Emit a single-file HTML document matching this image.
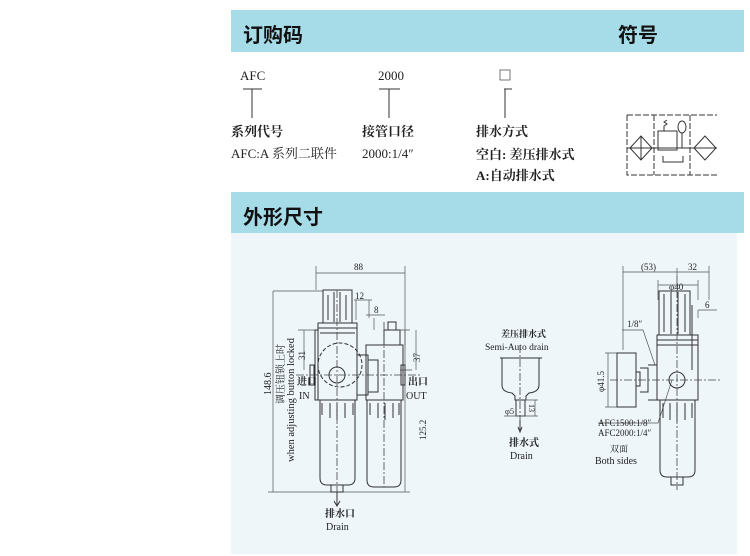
<!DOCTYPE html>
<html><head><meta charset="utf-8"><style>
html,body{margin:0;padding:0;background:#fff;}
svg{display:block;}
text{font-family:"Liberation Serif","Noto Serif CJK SC",serif;fill:#222;}
.h{font-family:"Liberation Sans","Noto Sans CJK SC",sans-serif;font-weight:bold;fill:#111;font-size:20px;}
.l{stroke:#333;stroke-width:1;fill:none;}
.t{stroke:#555;stroke-width:0.7;fill:none;}
.d{stroke:#444;stroke-width:0.8;fill:none;stroke-dasharray:8 2 2 2;}
</style></head><body>
<svg width="750" height="556" viewBox="0 0 750 556" xmlns="http://www.w3.org/2000/svg">
<rect x="231" y="10" width="513" height="42" fill="#a6dbe8"/>
<text x="243" y="42" class="h">订购码</text>
<text x="618" y="42" class="h">符号</text>
<text x="240" y="80" font-size="13">AFC</text>
<path class="l" d="M243 89H262M252 89V118"/>
<text x="378" y="80" font-size="13">2000</text>
<path class="l" d="M379 89H400M389 89V118"/>
<rect x="500" y="70" width="10" height="10" fill="none" stroke="#555" stroke-width="0.8"/>
<path class="l" d="M504 89H512M505 89V118"/>
<text x="231" y="136" font-size="13" font-weight="bold">系列代号</text>
<text x="231" y="158" font-size="13">AFC:A 系列二联件</text>
<text x="362" y="136" font-size="13" font-weight="bold">接管口径</text>
<text x="362" y="158" font-size="13">2000:1/4″</text>
<text x="476" y="136" font-size="13" font-weight="bold">排水方式</text>
<text x="476" y="159" font-size="13" font-weight="bold">空白:  差压排水式</text>
<text x="476" y="180" font-size="13" font-weight="bold">A:自动排水式</text>
<g stroke="#333" stroke-width="1" fill="none">
<path d="M627 115H717M627 115V175H717M654 115V175M690 115V175" stroke-dasharray="6 2"/>
<path d="M627 148H717"/>
<path d="M630 148L641 136L652 148L641 160Z"/>
<path d="M641 136V160"/>
<path d="M694 148L705 136L716 148L705 160Z"/>
<rect x="658" y="131" width="19" height="19"/>
<path d="M664 131V126l3-2-3-2 3-2"/>
<ellipse cx="682" cy="127" rx="4" ry="6"/>
<path d="M682 133V148M663 156V162H683V156"/>
</g>
<rect x="231" y="192" width="513" height="41" fill="#a6dbe8"/>
<text x="243" y="224" class="h">外形尺寸</text>
<rect x="231" y="233" width="506" height="321" fill="#eef6fa"/>
<g>
<path class="t" d="M316 266V290M405 266V345M316 273H405"/>
<text x="354" y="270" font-size="9">88</text>
<path class="t" d="M273 291H323M273 291V492M268 492H410M400 330H410M405 330V492M298 330H318M304 330V370M400 370H412M416 330V370"/>
<text x="271" y="395" font-size="10" transform="rotate(-90 271 395)">148.6</text>
<text x="284" y="404" font-size="10" transform="rotate(-90 284 404)">调压钮锁上时</text>
<text x="294" y="462" font-size="10.5" transform="rotate(-90 294 462)">when adjusting button locked</text>
<text x="305" y="360" font-size="9" transform="rotate(-90 305 360)">31</text>
<text x="420" y="362" font-size="9" transform="rotate(-90 420 362)">37</text>
<text x="426" y="440" font-size="9" transform="rotate(-90 426 440)">125.2</text>
<text x="355" y="299" font-size="9">12</text>
<text x="374" y="313" font-size="9">8</text>
<path class="t" d="M354 300H372M356 300V320M369 300V318M366 315H385M374 318V330"/>
<g class="l">
<path d="M323 290H352V323H323Z"/>
<path d="M328 295V320M334 292V322M340 292V322M346 295V320"/>
<path d="M318 323H357V400H318Z"/>
<path d="M318 328H357M320 333H355M318 330h-3V400h3"/>
<circle cx="340" cy="365" r="22" stroke-dasharray="4 2"/>
<circle cx="337" cy="375" r="8"/>
<rect x="310" y="365" width="4" height="20"/>
<path d="M357 355H368V395H357M368 360H378V392H368"/>
<path d="M380 345H403V400H366V345H380M384 330H400V345H384ZM388 322h8v8h-8z"/>
<rect x="401" y="365" width="4" height="20"/>
<path d="M320 400V478Q320 485 327 485H348Q355 485 355 478V400"/>
<path d="M322 403V415M330 403V418M337 403V420M345 403V418M353 403V415"/>
<path d="M367 400V480Q367 487 374 487H394Q401 487 401 480V400"/>
<path d="M370 403V415M378 403V418M385 403V420M393 403V418M399 403V415"/>
<rect x="331" y="485" width="12" height="7"/>
</g>
<path class="d" d="M337 290V492M384 322V487M296 375H420"/>
<path class="l" d="M337 492V505M334 501L337 506L340 501"/>
<text x="297" y="385" font-size="10" font-weight="bold">进口</text>
<text x="299" y="399" font-size="10">IN</text>
<text x="408" y="385" font-size="10" font-weight="bold">出口</text>
<text x="406" y="399" font-size="10">OUT</text>
<text x="325" y="517" font-size="10" font-weight="bold">排水口</text>
<text x="326" y="530" font-size="10" fill="#444">Drain</text>
</g>
<g>
<text x="501" y="337" font-size="9" font-weight="bold">差压排水式</text>
<text x="485" y="350" font-size="9.5" fill="#444">Semi-Auto drain</text>
<path class="l" d="M500 358H542M502 358V385Q502 392 512 393L515 396V400H526V396L529 393Q539 392 539 385V358"/>
<rect x="516" y="400" width="9" height="16" class="l"/>
<path class="t" d="M525 400H538M525 416H538M535 400V416M504 416H530"/>
<text x="537" y="412" font-size="8" transform="rotate(90 537 404)">13</text>
<text x="505" y="414" font-size="8.5">φ5</text>
<path class="d" d="M520 345V425"/>
<path class="l" d="M520 420V430M518 427L520 432L522 427"/>
<text x="509" y="446" font-size="10" font-weight="bold">排水式</text>
<text x="510" y="459" font-size="10" fill="#444">Drain</text>
</g>
<g>
<path class="t" d="M623 266V350M709 266V300M623 272H709M677 268V276M658 285H698M658 280V300M698 280V300M698 310H717M698 310V318"/>
<text x="641" y="270" font-size="9">(53)</text>
<text x="688" y="270" font-size="9">32</text>
<text x="669" y="290" font-size="9">φ40</text>
<text x="705" y="308" font-size="9">6</text>
<text x="627" y="327" font-size="9">1/8″</text>
<path class="t" d="M622 330H643L655 365M598 423H658L672 380"/>
<text x="604" y="392" font-size="9" transform="rotate(-90 604 392)">φ41.5</text>
<path class="t" d="M608 353V407M605 353H618M605 407H618"/>
<g class="l">
<path d="M659 291H690V335H659Z"/>
<path d="M664 294V332M671 292V334M678 292V334M685 294V332"/>
<path d="M657 335H698V400H657Z"/>
<path d="M657 340H698M657 345H698"/>
<rect x="617" y="353" width="19" height="54"/>
<path d="M636 372h4v14h-4M640 368h8v24h-8M648 365H657V400H648"/>
<circle cx="677" cy="380" r="8"/>
<path d="M698 370V400M692 305V370"/>
<path d="M660 400V470Q660 477 667 477H688Q695 477 695 470V400"/>
<path d="M663 403V418M670 403V420M677 403V422M685 403V420M692 403V418"/>
<rect x="671" y="477" width="12" height="8"/>
</g>
<path class="d" d="M677 276V490M610 380H720"/>
<text x="598" y="426" font-size="9">AFC1500:1/8″</text>
<text x="598" y="436" font-size="9">AFC2000:1/4″</text>
<text x="610" y="452" font-size="9">双面</text>
<text x="595" y="464" font-size="10" fill="#444">Both sides</text>
</g>
</svg>
</body></html>
